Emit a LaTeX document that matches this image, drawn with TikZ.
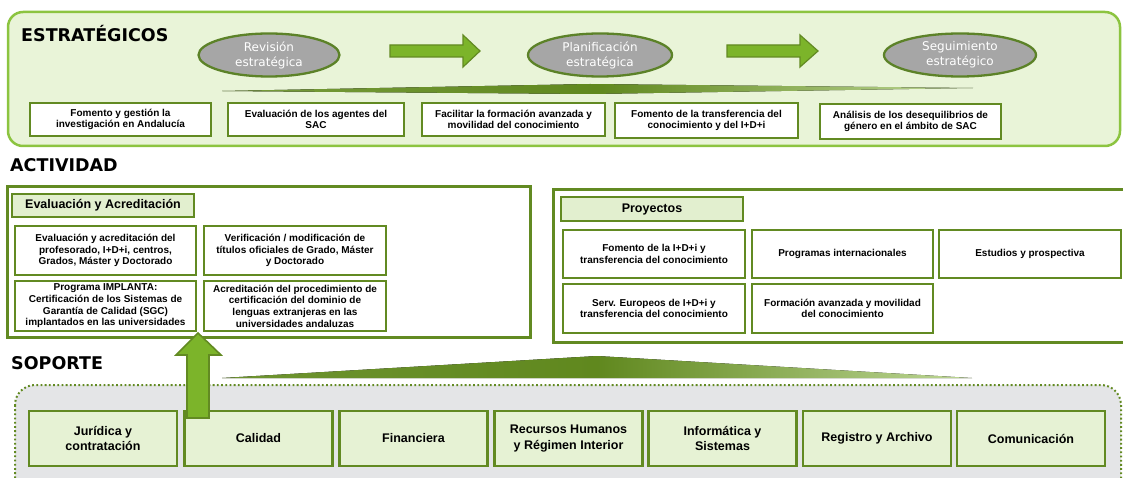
\documentclass[tikz,border=0pt]{standalone}
\usepackage{fontspec}
\setmainfont{Liberation Sans}
\newfontfamily\verdanafont{DejaVu Sans}
\usetikzlibrary{shapes.geometric}
\definecolor{panelfill}{RGB}{233,244,216}
\definecolor{panelline}{RGB}{140,196,64}
\definecolor{oliveline}{RGB}{98,138,34}
\definecolor{hdrfill}{RGB}{226,239,207}
\definecolor{boxfill}{RGB}{230,242,212}
\definecolor{greyfill}{RGB}{228,229,231}
\definecolor{ovalfill}{RGB}{166,166,166}
\definecolor{ovalline}{RGB}{92,130,40}
\definecolor{arrowfill}{RGB}{124,180,42}
\definecolor{wedgedark}{RGB}{96,136,30}
\definecolor{wedgelight}{RGB}{190,215,150}
\begin{document}
\begin{tikzpicture}[x=1pt,y=-1pt,
  sbox/.style={draw=oliveline, line width=2.2pt, fill=white, inner sep=1pt, align=center, font=\bfseries\fontsize{10}{11.7}\selectfont},
  hbox/.style={draw=oliveline, line width=2.2pt, fill=hdrfill, align=center, font=\bfseries\fontsize{12.5}{15}\selectfont},
  gbox/.style={draw=oliveline, line width=2.2pt, fill=boxfill, align=center, minimum width=148, minimum height=55, font=\bfseries\fontsize{12.5}{15.5}\selectfont},
  oval/.style={ellipse, draw=ovalline, line width=2.3pt, fill=ovalfill, text=white, align=center, inner sep=0pt, minimum height=43, font=\verdanafont\fontsize{12}{15}\selectfont},
  title/.style={anchor=base west, inner sep=0pt, font=\verdanafont\bfseries\fontsize{17.5}{20}\selectfont},
  blockarrow/.style={fill=arrowfill, draw=oliveline, line width=1.2pt, line join=miter}]
\useasboundingbox (0,0) rectangle (1123,478);
% estrategicos
\draw[line width=2.5pt, draw=panelline, fill=panelfill, rounded corners=15] (8,12) rectangle (1120,146);
\node[title] (estr) at (21,42) {ESTRATÉGICOS};
\node[oval, minimum width=141] (revision) at (269,55) {Revisión\\estratégica};
\node[oval, minimum width=144] (planif) at (600,55) {Planificación\\estratégica};
\node[oval, minimum width=152] (seguim) at (960,55) {Seguimiento\\estratégico};
\draw[blockarrow] (390,45) -- (463,45) -- (463,35) -- (480,51) -- (463,67) -- (463,57) -- (390,57) -- cycle;
\draw[blockarrow] (727,45) -- (800,45) -- (800,35) -- (818,51) -- (800,67) -- (800,57) -- (727,57) -- cycle;
\fill[left color=wedgedark!75!wedgelight, right color=wedgelight, middle color=wedgedark] (222,91) -- (590,84) -- (973,88) -- (590,94) -- cycle;
\node[sbox, minimum width=181, minimum height=33] (fomento) at (120.5,119.5) {Fomento y gestión la\\investigación en Andalucía};
\node[sbox, minimum width=176, minimum height=33] (agentes) at (316,119.5) {Evaluación de los agentes del\\SAC};
\node[sbox, minimum width=183, minimum height=33] (formacion) at (513.5,119.5) {Facilitar la formación avanzada y\\movilidad del conocimiento};
\node[sbox, minimum width=183, minimum height=35] (transfer) at (706.5,120.5) {Fomento de la transferencia del\\conocimiento y del I+D+i};
\node[sbox, minimum width=181, minimum height=35] (genero) at (910.5,121.5) {Análisis de los desequilibrios de\\género en el ámbito de SAC};
% actividad
\node[title] (activ) at (10,172) {ACTIVIDAD};
\draw[line width=3pt, draw=oliveline, fill=white] (7,187) rectangle (530,337);
\node[hbox, minimum width=182, minimum height=23] (evalhdr) at (103,205.5) {Evaluación y Acreditación};
\node[sbox, minimum width=181, minimum height=49] (profes) at (105.5,250.5) {Evaluación y acreditación del\\profesorado, I+D+i, centros,\\Grados, Máster y Doctorado};
\node[sbox, minimum width=182, minimum height=49] (verif) at (295,250.5) {Verificación / modificación de\\títulos oficiales de Grado, Máster\\y Doctorado};
\node[sbox, minimum width=181, minimum height=50] (implanta) at (105.5,306) {Programa IMPLANTA:\\Certificación de los Sistemas de\\Garantía de Calidad (SGC)\\implantados en las universidades};
\node[sbox, minimum width=182, minimum height=50] (lenguas) at (295,306) {Acreditación del procedimiento de\\certificación del dominio de\\lenguas extranjeras en las\\universidades andaluzas};
\draw[line width=3pt, draw=oliveline, fill=white] (553,190) rectangle (1140,342);
\node[hbox, minimum width=182, minimum height=24] (proyhdr) at (652,209) {Proyectos};
\node[sbox, minimum width=182, minimum height=48] (idi) at (654,254) {Fomento de la I+D+i y\\transferencia del conocimiento};
\node[sbox, minimum width=181, minimum height=48] (internac) at (842.5,254) {Programas internacionales};
\node[sbox, minimum width=182, minimum height=48] (estudios) at (1030,254) {Estudios y prospectiva};
\node[sbox, minimum width=182, minimum height=49] (europeos) at (654,308.5) {Serv. Europeos de I+D+i y\\transferencia del conocimiento};
\node[sbox, minimum width=181, minimum height=49] (movilidad) at (842.5,308.5) {Formación avanzada y movilidad\\del conocimiento};
% soporte
\node[title] (soporte) at (11,369) {SOPORTE};
\fill[left color=wedgedark!85!wedgelight, right color=wedgelight, middle color=wedgedark] (222,378) -- (597,356) -- (972,378) -- cycle;
\draw[line width=2pt, draw=oliveline, dash pattern=on 1.8pt off 2.4pt, fill=greyfill, rounded corners=20] (15,385) rectangle (1121,500);
\node[gbox] (juridica) at (103,438.5) {Jurídica y\\contratación};
\node[gbox] (calidad) at (258.5,438.5) {Calidad};
\node[gbox] (financiera) at (413.5,438.5) {Financiera};
\node[gbox] (rrhh) at (568.5,438.5) {Recursos Humanos\\y Régimen Interior};
\node[gbox] (informatica) at (722.5,438.5) {Informática y\\Sistemas};
\node[gbox] (registro) at (877,438.5) {Registro y Archivo};
\node[gbox] (comunic) at (1031,438.5) {Comunicación};
\draw[blockarrow, line width=1.6pt] (187,418) -- (209,418) -- (209,355) -- (221,355) -- (198,333) -- (176,355) -- (187,355) -- cycle;
\end{tikzpicture}
\end{document}
